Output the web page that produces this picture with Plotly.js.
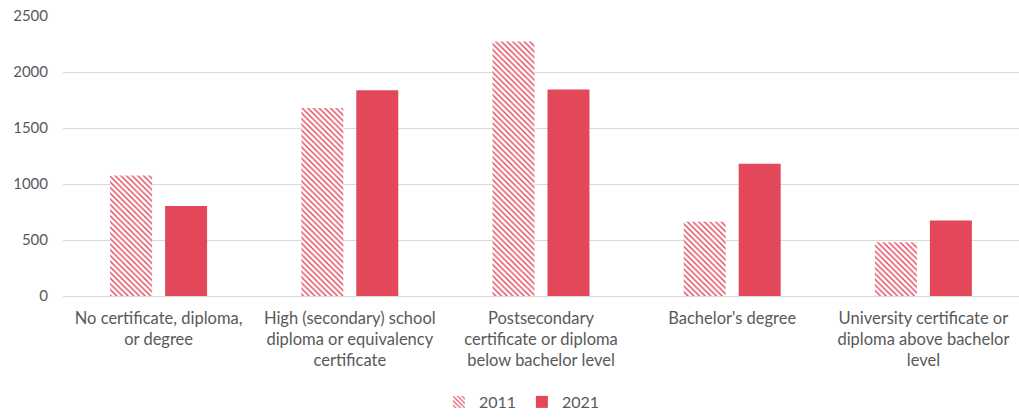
<!DOCTYPE html>
<html>
<head>
<meta charset="utf-8">
<script src="https://cdn.plot.ly/plotly-3.0.1.min.js"></script>
<style>html,body{margin:0;padding:0;background:#fff;overflow:hidden;}#chart{width:1019px;height:419px;}</style>
</head>
<body>
<div id="chart"></div>
<script>
const categories = [
  "No certificate, diploma,<br>or degree",
  "High (secondary) school<br>diploma or equivalency<br>certificate",
  "Postsecondary<br>certificate or diploma<br>below bachelor level",
  "Bachelor's degree",
  "University certificate or<br>diploma above bachelor<br>level"
];
const values2011 = [1075, 1678, 2272, 664, 480];
const values2021 = [804, 1837, 1843, 1180, 674];
const seriesNames = ["2011", "2021"];
const yTicks = [0, 500, 1000, 1500, 2000, 2500];

const red = "#E3475A";
const data = [
  {
    type: "bar", name: seriesNames[0], x: categories, y: values2011,
    marker: {color: "#ffffff", pattern: {shape: "\\", fgcolor: red, bgcolor: "#ffffff", size: 4, solidity: 0.35}, line: {width: 0}}
  },
  {
    type: "bar", name: seriesNames[1], x: categories, y: values2021,
    marker: {color: red, line: {width: 0}}
  }
];
const layout = {
  width: 1019, height: 419,
  margin: {l: 63, r: 0, t: 16, b: 117},
  paper_bgcolor: "#fff", plot_bgcolor: "#fff",
  font: {family: "Lato, 'Open Sans', sans-serif", size: 16, color: "#595959"},
  barmode: "group", bargap: 0.425, bargroupgap: 0.236,
  showlegend: true,
  legend: {orientation: "h", x: 0.48, xanchor: "center", y: -0.381, yanchor: "middle", font: {size: 16, color: "#595959"}, itemwidth: 30, entrywidth: 38, entrywidthmode: "pixels"},
  xaxis: {tickfont: {size: 16.5, color: "#595959"}, showline: false, ticks: "", ticklabelstandoff: 10, automargin: false},
  yaxis: {range: [0, 2500], tickvals: yTicks, showgrid: true, gridcolor: "#D9D9D9", gridwidth: 1, zeroline: true, zerolinecolor: "#D9D9D9", zerolinewidth: 1, ticks: "", tickfont: {size: 15, color: "#595959"}, ticklabelstandoff: 14, automargin: false}
};
Plotly.newPlot("chart", data, layout, {displayModeBar: false, staticPlot: true});
</script>
</body>
</html>
